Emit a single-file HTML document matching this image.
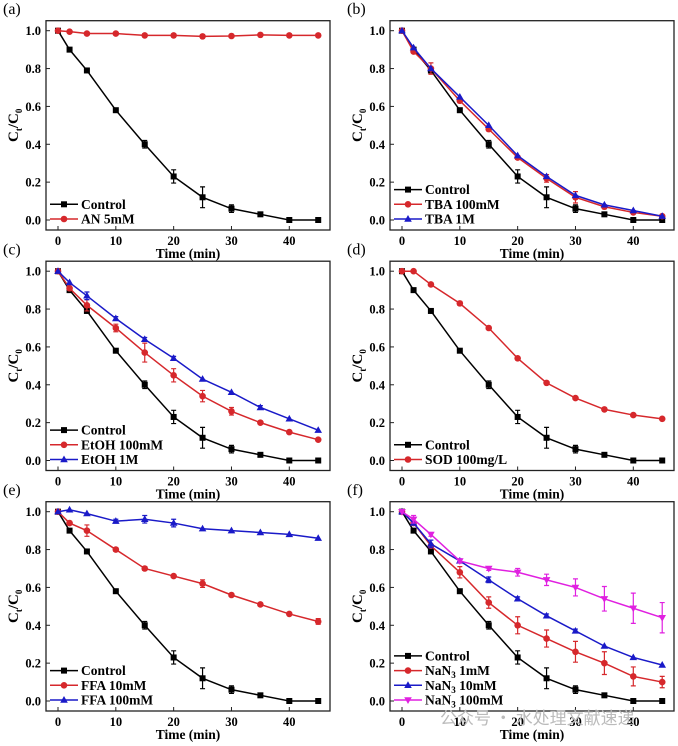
<!DOCTYPE html>
<html><head><meta charset="utf-8"><style>
body{margin:0;background:#fff;}
svg{display:block;font-family:"Liberation Serif",serif;font-weight:bold;}
</style></head><body>
<svg id="fig" width="678" height="746" viewBox="0 0 678 746" xmlns="http://www.w3.org/2000/svg"></svg>
<script>
const times = [0,2,5,10,15,20,25,30,35,40,45];
const control = [1,0.9,0.79,0.58,0.40,0.23,0.12,0.06,0.03,0,0];
const controlErr = [0,0,0,0.01,0.02,0.035,0.055,0.02,0,0,0];
const an5 = [1,0.995,0.985,0.985,0.975,0.975,0.97,0.972,0.978,0.975,0.975];
const tba100 = [1,0.89,0.80,0.63,0.48,0.33,0.22,0.12,0.07,0.04,0.02];
const tba1m = [1,0.91,0.80,0.65,0.50,0.34,0.23,0.13,0.08,0.05,0.02];
const tbaErr = [0,0,0.03,0.01,0.01,0.01,0.02,0.03,0.01,0,0];
const etoh100 = [1,0.91,0.82,0.70,0.57,0.45,0.34,0.26,0.20,0.15,0.11];
const etoh100Err = [0,0,0.03,0.02,0.05,0.035,0.03,0.02,0,0,0];
const etoh1m = [1,0.94,0.87,0.75,0.64,0.54,0.43,0.36,0.28,0.22,0.16];
const etoh1mErr = [0,0,0.02,0.01,0.01,0.01,0,0,0.01,0,0];
const sod = [1,1.0,0.93,0.83,0.70,0.54,0.41,0.33,0.27,0.24,0.22];
const sodErr = [0,0,0,0.01,0,0,0,0,0,0,0];
const ffa10 = [1,0.94,0.90,0.80,0.70,0.66,0.62,0.56,0.51,0.46,0.42];
const ffa10Err = [0,0.01,0.03,0.01,0.01,0,0.02,0,0,0,0.015];
const ffa100 = [1,1.01,0.99,0.95,0.96,0.94,0.91,0.90,0.89,0.88,0.86];
const ffa100Err = [0,0,0,0.01,0.02,0.02,0,0,0,0,0];
const nan1 = [1,0.94,0.82,0.68,0.52,0.40,0.33,0.26,0.20,0.13,0.10];
const nan1Err = [0,0,0,0.03,0.03,0.045,0.045,0.055,0.06,0.05,0.03];
const nan10 = [1,0.94,0.83,0.74,0.64,0.54,0.45,0.37,0.29,0.23,0.19];
const nan10Err = [0,0,0.02,0.01,0.015,0.01,0.01,0.01,0,0,0];
const nan100 = [1,0.96,0.88,0.74,0.70,0.68,0.64,0.60,0.54,0.49,0.44];
const nan100Err = [0,0.02,0.01,0.01,0.01,0.02,0.03,0.045,0.065,0.08,0.08];
const xTicks = [0,10,20,30,40];
const yTicks = [0,0.2,0.4,0.6,0.8,1.0];

const K='#000', R='#d6282c', B='#1a1ac8', M='#e020e0';
const SUB3='N<tspan dy="3" font-size="9">3</tspan><tspan dy="-3">';
const panels = [
 {lab:'(a)', col:0,row:0, series:[
   {name:'Control',v:control,e:controlErr,c:K,m:'sq'},
   {name:'AN 5mM',v:an5,e:null,c:R,m:'ci'}]},
 {lab:'(b)', col:1,row:0, series:[
   {name:'Control',v:control,e:controlErr,c:K,m:'sq'},
   {name:'TBA 100mM',v:tba100,e:tbaErr,c:R,m:'ci'},
   {name:'TBA 1M',v:tba1m,e:null,c:B,m:'up'}]},
 {lab:'(c)', col:0,row:1, series:[
   {name:'Control',v:control,e:controlErr,c:K,m:'sq'},
   {name:'EtOH 100mM',v:etoh100,e:etoh100Err,c:R,m:'ci'},
   {name:'EtOH 1M',v:etoh1m,e:etoh1mErr,c:B,m:'up'}]},
 {lab:'(d)', col:1,row:1, series:[
   {name:'Control',v:control,e:controlErr,c:K,m:'sq'},
   {name:'SOD 100mg/L',v:sod,e:sodErr,c:R,m:'ci'}]},
 {lab:'(e)', col:0,row:2, series:[
   {name:'Control',v:control,e:controlErr,c:K,m:'sq'},
   {name:'FFA 10mM',v:ffa10,e:ffa10Err,c:R,m:'ci'},
   {name:'FFA 100mM',v:ffa100,e:ffa100Err,c:B,m:'up'}]},
 {lab:'(f)', col:1,row:2, series:[
   {name:'Control',v:control,e:controlErr,c:K,m:'sq'},
   {name:'Na'+SUB3+' 1mM</tspan>',v:nan1,e:nan1Err,c:R,m:'ci'},
   {name:'Na'+SUB3+' 10mM</tspan>',v:nan10,e:nan10Err,c:B,m:'up'},
   {name:'Na'+SUB3+' 100mM</tspan>',v:nan100,e:nan100Err,c:M,m:'dn'}]}
];
const svg=document.getElementById('fig');
let h='';
function marker(m,x,y,c){
  if(m==='sq') return `<rect x="${x-3}" y="${y-3}" width="6" height="6" fill="${c}"/>`;
  if(m==='ci') return `<circle cx="${x}" cy="${y}" r="3.3" fill="${c}"/>`;
  if(m==='up') return `<polygon points="${x},${y-4} ${x-3.8},${y+2.7} ${x+3.8},${y+2.7}" fill="${c}"/>`;
  return `<polygon points="${x},${y+4} ${x-3.8},${y-2.7} ${x+3.8},${y-2.7}" fill="${c}"/>`;
}
panels.forEach((p,pi)=>{
  const ox=p.col*344, oy=p.row*240.5;
  const x0=58+ox, y1=30.7+oy, y0=220+oy;
  const sx=t=>x0+t*(289.3-58)/40;
  const sy=v=>y0-v*(y0-y1);
  const left=46+ox, right=330+ox, top=y1-10, bot=y0+10;
  h+=`<g>`;
  h+=`<text x="${3+ox}" y="${14+oy}" font-size="16" font-weight="normal">${p.lab}</text>`;
  h+=`<rect x="${left}" y="${top}" width="${right-left}" height="${bot-top}" fill="none" stroke="#222" stroke-width="1.3"/>`;
  xTicks.forEach(t=>{h+=`<line x1="${sx(t)}" x2="${sx(t)}" y1="${bot}" y2="${bot-4}" stroke="#222"/><text x="${sx(t)}" y="${y0+25}" font-size="12.5" text-anchor="middle">${t}</text>`;});
  yTicks.forEach(t=>{h+=`<line x1="${left}" x2="${left+4}" y1="${sy(t)}" y2="${sy(t)}" stroke="#222"/><text x="${left-5}" y="${sy(t)+4.5}" font-size="12.5" text-anchor="end">${t.toFixed(1)}</text>`;});
  h+=`<text x="${(left+right)/2}" y="${y0+38}" font-size="13.5" text-anchor="middle">Time (min)</text>`;
  h+=`<text transform="translate(${18+ox},${(y0+y1)/2}) rotate(-90)" font-size="15" text-anchor="middle">C<tspan dy="4" font-size="9">t</tspan><tspan dy="-4">/C</tspan><tspan dy="4" font-size="9">0</tspan></text>`;
  p.series.forEach((s,si)=>{
    h+=`<g>`;
    h+=`<polyline fill="none" stroke="${s.c}" stroke-width="1.5" points="${times.map((t,i)=>sx(t)+','+sy(s.v[i])).join(' ')}"/>`;
    times.forEach((t,i)=>{
      if(s.e&&s.e[i]>0){const a=sy(s.v[i]+s.e[i]),b=sy(s.v[i]-s.e[i]),x=sx(t);
        h+=`<path d="M${x},${a}V${b}M${x-2.5},${a}H${x+2.5}M${x-2.5},${b}H${x+2.5}" stroke="${s.c}" stroke-width="1.2"/>`;}
      h+=marker(s.m,sx(t),sy(s.v[i]),s.c);
    });
    h+=`</g>`;
    const n=p.series.length, ly=y0-1-(n-1-si)*14.7;
    h+=`<g><line x1="${50+ox}" x2="${78+ox}" y1="${ly}" y2="${ly}" stroke="${s.c}" stroke-width="1.5"/>${marker(s.m,64+ox,ly,s.c)}<text x="${81+ox}" y="${ly+4.5}" font-size="13.5">${s.name}</text></g>`;
  });
  h+=`</g>`;
});
h+=`<text x="440" y="724" font-size="17" fill="#bbb" font-weight="normal" font-family="Noto Sans CJK SC, sans-serif">公众号 · 水处理文献速递</text>`;
svg.innerHTML=h;
</script>
</body></html>
